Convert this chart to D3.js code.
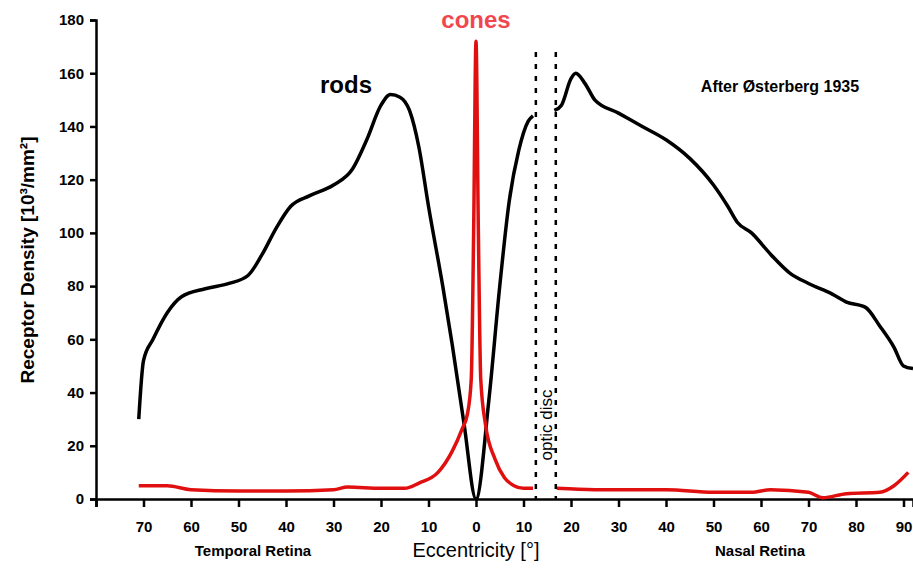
<!DOCTYPE html>
<html><head><meta charset="utf-8">
<script src="https://cdn.jsdelivr.net/npm/d3@7"></script>
<style>body{margin:0;background:#fff;font-family:"Liberation Sans",Arial,sans-serif}</style>
</head><body><svg id="c" width="913" height="569"></svg>
<script>
// eccentricity: temporal negative, nasal positive
const rodsTemporal = [[-71,30],[-70,52],[-68,60],[-65,70],[-62,76],[-57,79],[-52,81],[-48,84],[-45,92],[-42,102],[-39,110],[-35,114],[-30,118],[-26,124],[-23,135],[-20,148],[-18,152],[-16,151],[-14,146],[-12,132],[-10,110],[-7,80],[-5,58],[-2.5,28],[0,0],[2.7,37],[5,80],[7,112],[9,131],[11,142],[12,144]]
const rodsNasal = [[16.5,146],[18,148],[20,158],[21,160],[23,156],[25,150],[30,145],[35,140],[40,135],[45,128],[50,118],[53,110],[55,104],[58,100],[62,92],[66,85],[70,81],[75,77],[78,74],[82,72],[85,65],[88,57],[90,50],[92,49]]
const conesTemporal = [[-71,5],[-65,5],[-60,3.5],[-50,3],[-40,3],[-30,3.5],[-27,4.5],[-20,4],[-15,4],[-12,6],[-8,10],[-5,18],[-3,26],[-1.8,32],[-1,45],[-0.5,100],[0,172],[0.5,100],[1,45],[2,28],[4,15],[6,8],[8,5],[10,4],[12,4]]
const conesNasal = [[17,4],[25,3.5],[40,3.5],[50,2.5],[58,2.5],[62,3.5],[70,2.5],[73,0.5],[78,2],[85,2.5],[88,5],[91,10]]
const xTicks = [-80,-70,-60,-50,-40,-30,-20,-10,0,10,20,30,40,50,60,70,80,90]
const yTicks = [0,20,40,60,80,100,120,140,160,180]
const discEdges = [12.6,16.8]

const svg = d3.select("#c")
const x = d3.scaleLinear().domain([-80,92]).range([96,913])
const y = d3.scaleLinear().domain([0,180]).range([499,20])

svg.append("g").attr("transform","translate(0,499)")
  .call(d3.axisBottom(x).tickValues(xTicks).tickSize(8).tickPadding(14).tickFormat(d => d === -80 ? "" : Math.abs(d)))
svg.append("g").attr("transform","translate(96,0)")
  .call(d3.axisLeft(y).tickValues(yTicks).tickSize(6).tickPadding(6))
svg.selectAll(".domain,.tick line").attr("stroke","#000").attr("stroke-width",2.5)
svg.selectAll(".tick text").attr("font-size",15).attr("font-weight","bold").attr("fill","#000").attr("font-family","Liberation Sans")

const line = d3.line().x(d => x(d[0])).y(d => y(d[1])).curve(d3.curveMonotoneX)
;[rodsTemporal, rodsNasal].forEach(s => svg.append("path").datum(s).attr("d",line)
  .attr("fill","none").attr("stroke","#000").attr("stroke-width",3.5))
;[conesTemporal, conesNasal].forEach(s => svg.append("path").datum(s).attr("d",line)
  .attr("fill","none").attr("stroke","#e01010").attr("stroke-width",3.5))

discEdges.forEach(e => svg.append("line").attr("x1",x(e)).attr("x2",x(e)).attr("y1",y(168)).attr("y2",y(0))
  .attr("stroke","#000").attr("stroke-width",2.5).attr("stroke-dasharray","5,7"))

const t = (txt,px,py,size,opts={}) => svg.append("text").attr("x",px).attr("y",py).attr("font-size",size)
  .attr("font-weight",opts.normal ? "normal" : "bold").attr("text-anchor",opts.anchor||"middle").attr("fill",opts.fill||"#000")
  .attr("transform",opts.rot ? `rotate(-90,${px},${py})` : null).text(txt)
t("rods",346,93,24)
t("cones",x(0),28,24,{fill:"#f0474f"})
t("After Østerberg 1935",780,92,16)
t("optic disc",x(14.7)+6,425,17,{rot:true,normal:true})
t("Temporal Retina",253,556,15)
t("Eccentricity [°]",x(0),557,20,{normal:true})
t("Nasal Retina",760,556,15)
t("Receptor Density [10³/mm²]",34,260,19,{rot:true})
</script></body></html>
